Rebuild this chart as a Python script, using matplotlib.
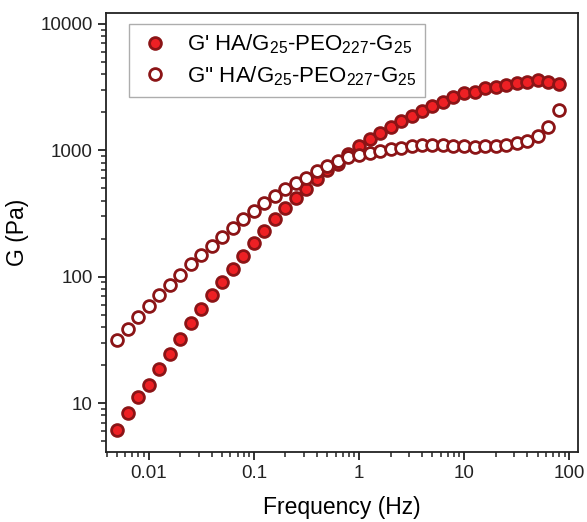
import numpy as np
import matplotlib
matplotlib.use("Agg")
import matplotlib.pyplot as plt

plt.rcParams['font.family'] = ['Liberation Sans', 'DejaVu Sans']
plt.rcParams['mathtext.fontset'] = 'custom'
plt.rcParams['mathtext.rm'] = 'Liberation Sans'

# frequency sweep, 10 points per decade from 0.005 Hz
freq = [0.005, 0.0063, 0.0079, 0.01, 0.0126, 0.0158, 0.02, 0.0251, 0.0316, 0.0398,
        0.05, 0.063, 0.079, 0.1, 0.126, 0.158, 0.2, 0.251, 0.316, 0.398,
        0.5, 0.63, 0.79, 1.0, 1.26, 1.58, 2.0, 2.51, 3.16, 3.98,
        5.0, 6.3, 7.9, 10.0, 12.6, 15.8, 20.0, 25.1, 31.6, 39.8,
        50.0, 63.0, 79.0]

g_storage = [6.1, 8.4, 11.1, 13.8, 18.5, 24.6, 31.9, 42.8, 55.7, 71.3,
             90.8, 116, 145, 184, 230, 284, 348, 417, 491, 588,
             696, 786, 942, 1075, 1227, 1368, 1526, 1692, 1876, 2054,
             2249, 2416, 2648, 2826, 2916, 3096, 3193, 3293, 3392, 3495,
             3605, 3495, 3327]

g_loss = [31.3, 38.5, 48.4, 58.4, 71.8, 86.5, 104, 125, 149, 175,
          207, 243, 286, 331, 385, 434, 491, 553, 606, 683,
          749, 819, 881, 913, 953, 982, 1024, 1042, 1075, 1094,
          1094, 1094, 1088, 1075, 1063, 1075, 1075, 1094, 1141, 1192,
          1288, 1517, 2089]

face = '#ee2024'
edge = '#8b1416'

fig = plt.figure(figsize=(5.87, 5.22), dpi=100)
ax = fig.add_axes([0.1806, 0.1341, 0.8041, 0.841])

ax.plot(freq, g_storage, 'o', ls='none', ms=8.5, mfc=face, mec=edge, mew=2,
        label=r"G' HA/G$_{25}$-PEO$_{227}$-G$_{25}$")
ax.plot(freq, g_loss, 'o', ls='none', ms=8.5, mfc='white', mec=edge, mew=2,
        label=r"G'' HA/G$_{25}$-PEO$_{227}$-G$_{25}$")

ax.set_xscale('log')
ax.set_yscale('log')
ax.set_xlim(0.00393, 121)
ax.set_ylim(4.1, 12200)
ax.set_xticks([0.01, 0.1, 1, 10, 100])
ax.set_xticklabels(['0.01', '0.1', '1', '10', '100'])
ax.set_yticks([10, 100, 1000, 10000])
ax.set_yticklabels(['10', '100', '1000', '10000'])

ax.tick_params(which='major', direction='out', length=6, width=1.3, labelsize=13.5,
               top=False, right=False, colors='#222222')
ax.tick_params(which='minor', direction='out', length=3.5, width=1.1,
               top=False, right=False, colors='#222222')
for s in ax.spines.values():
    s.set_linewidth(1.3)
    s.set_color('#222222')

ax.set_xlabel('Frequency (Hz)', fontsize=16.5, labelpad=10)
ax.set_ylabel('G (Pa)', fontsize=16.5, labelpad=8)

leg = ax.legend(loc='upper left', bbox_to_anchor=(0.0487, 0.975), borderaxespad=0,
                fontsize=16, fancybox=False, edgecolor='#999999', handletextpad=0.7,
                borderpad=0.4, labelspacing=0.35, handlelength=1.5)
leg.get_frame().set_linewidth(1.0)

plt.savefig('out.png', dpi=100)
